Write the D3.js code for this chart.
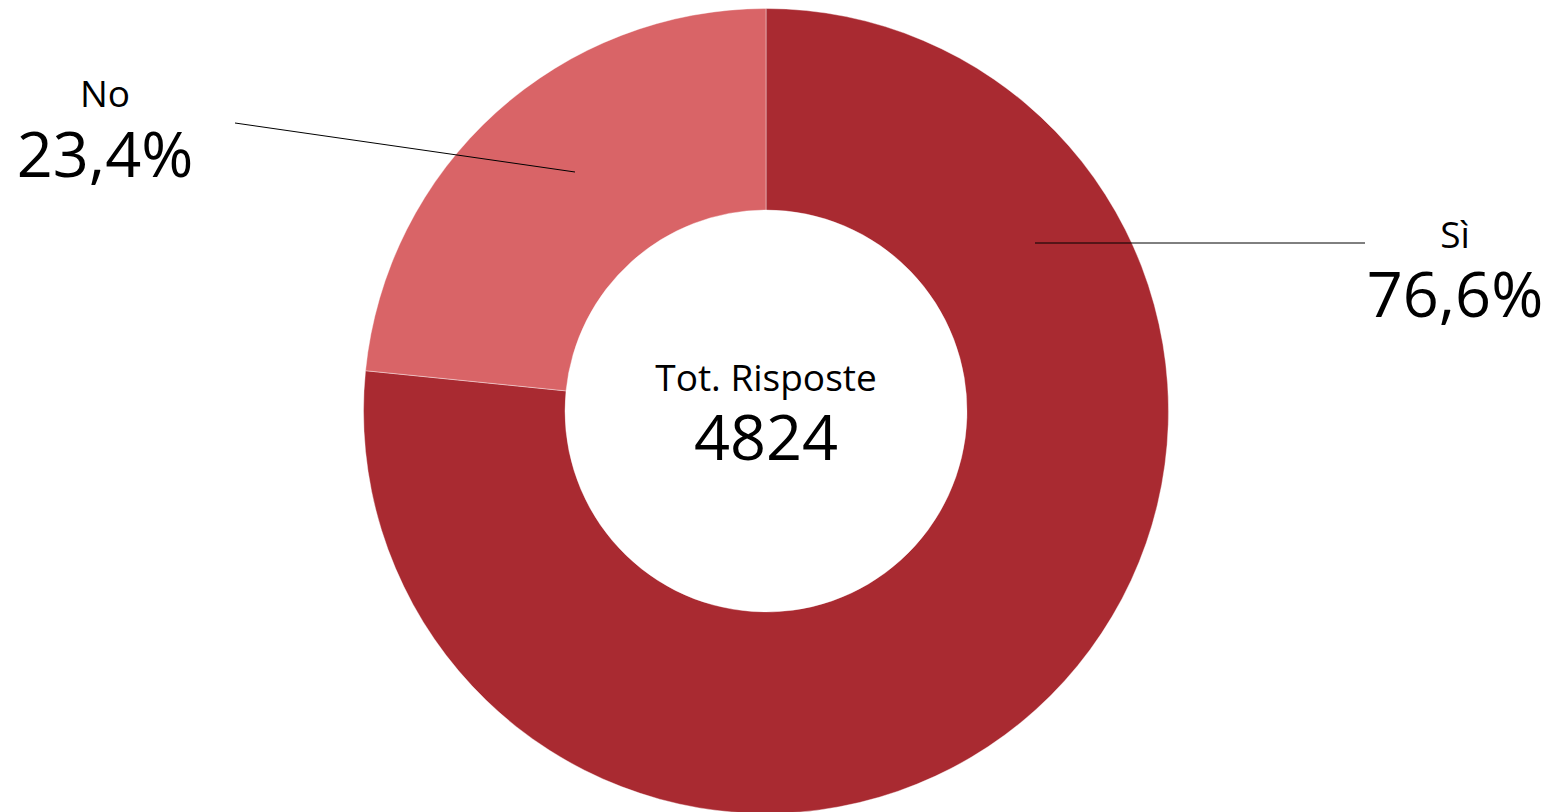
<!DOCTYPE html>
<html><head><meta charset="utf-8">
<script src="https://cdn.jsdelivr.net/npm/d3@7"></script>
<style>html,body{margin:0;padding:0;background:#fff;overflow:hidden}text{font-family:"Open Sans",sans-serif}</style>
</head><body><svg id="c" width="1549" height="812"></svg>
<script>
const categories = ["Sì", "No"];
const values = [3695, 1129];
const percentLabels = ["76,6%", "23,4%"];
const colors = ["#a92a31", "#d96467"];
const centerTitle = "Tot. Risposte";
const total = d3.sum(values);

const svg = d3.select("#c");
const cx = 766, cy = 411, outerR = 402.5, innerR = 201;
const g = svg.append("g").attr("transform", `translate(${cx},${cy})`);

const pie = d3.pie().sort(null).value(d => d.v);
const arcs = pie(categories.map((c, i) => ({c, v: values[i], p: percentLabels[i], col: colors[i]})));
const arc = d3.arc().innerRadius(innerR).outerRadius(outerR);

g.selectAll("path.slice").data(arcs).join("path")
  .attr("d", arc).attr("fill", d => d.data.col)
  .attr("stroke", "#fff").attr("stroke-width", 0.4);

// leader lines & labels (layout positions relative to center)
const layout = {
  "Sì": {line: [[269, -168], [599, -168]], lx: 689, ly1: -163, ly2: -94},
  "No": {line: [[-191, -239], [-531, -288]], lx: -661, ly1: -304, ly2: -234}
};
arcs.forEach(d => {
  const L = layout[d.data.c];
  g.append("line")
    .attr("x1", L.line[0][0]).attr("y1", L.line[0][1])
    .attr("x2", L.line[1][0]).attr("y2", L.line[1][1])
    .attr("stroke", "#000").attr("stroke-width", 1);
  g.append("text").attr("x", L.lx).attr("y", L.ly1).attr("text-anchor", "middle")
    .attr("font-size", 37).attr("fill", "#000").text(d.data.c);
  g.append("text").attr("x", L.lx).attr("y", L.ly2).attr("text-anchor", "middle")
    .attr("font-size", 63).attr("fill", "#000").text(d.data.p);
});

g.append("text").attr("x", 0).attr("y", -20).attr("text-anchor", "middle")
  .attr("font-size", 37).attr("fill", "#000").text(centerTitle);
g.append("text").attr("x", 0).attr("y", 49).attr("text-anchor", "middle")
  .attr("font-size", 63).attr("fill", "#000").text(total);
</script></body></html>
